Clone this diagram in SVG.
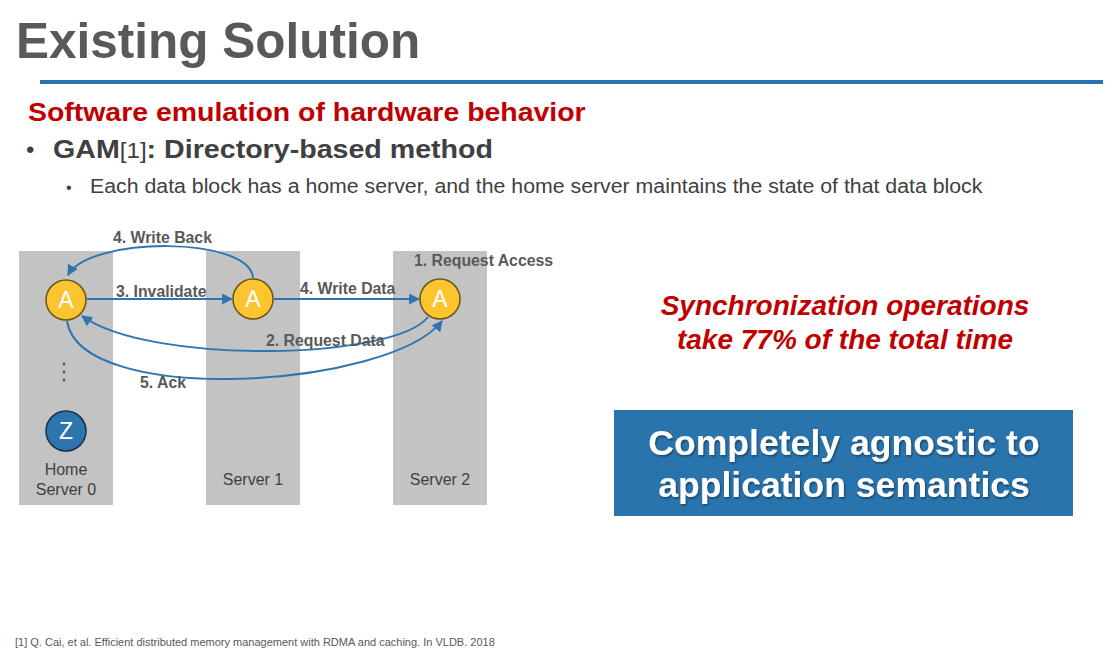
<svg xmlns="http://www.w3.org/2000/svg" width="1109" height="664" viewBox="0 0 1109 664">
  <defs>
    <marker id="arrow" viewBox="0 0 10 10" refX="9" refY="5" markerWidth="5.5" markerHeight="5.5" orient="auto" markerUnits="strokeWidth">
      <path d="M0,0 L10,5 L0,10 z" fill="#2e75b0"/>
    </marker>
    <filter id="shadow" x="-5%" y="-20%" width="110%" height="140%">
      <feDropShadow dx="1" dy="1.5" stdDeviation="0.8" flood-color="#000" flood-opacity="0.45"/>
    </filter>
  </defs>
  <style>
    .sans { font-family: "Liberation Sans", Arial, sans-serif; }
    .col { fill: #c3c3c3; }
    .nodeA { fill: #fcc52f; stroke: #6b5416; stroke-width: 1.5; }
    .nodeZ { fill: #2e75b0; stroke: #1a2f45; stroke-width: 1.5; }
    .glyph { font-family: "Liberation Sans", Arial, sans-serif; font-size: 23px; fill: #ffffff; text-anchor: middle; }
    .edge { fill: none; stroke: #2e75b0; stroke-width: 2; marker-end: url(#arrow); }
    .elabel { font-family: "Liberation Sans", Arial, sans-serif; font-size: 15.8px; font-weight: bold; fill: #595959; }
    .srv { font-family: "Liberation Sans", Arial, sans-serif; font-size: 16px; fill: #404040; text-anchor: middle; }
  </style>

  <rect width="1109" height="664" fill="#ffffff"/>

  <!-- Title and header rule -->
  <text x="16" y="58" class="sans" font-size="49.5" font-weight="bold" fill="#595959">Existing Solution</text>
  <rect x="40" y="80" width="1063" height="4" fill="#2a71ad"/>

  <!-- Bullet text (slightly widened lettering) -->
  <text transform="translate(28,121) scale(1.094,1)" class="sans" font-size="26" font-weight="bold" fill="#c00000">Software emulation of hardware behavior</text>
  <text x="26" y="158" class="sans" font-size="24" fill="#404040">•</text>
  <text transform="translate(53,158) scale(1.1,1)" class="sans" font-size="26" fill="#404040"><tspan font-weight="bold">GAM</tspan><tspan font-size="22">[1]</tspan><tspan font-weight="bold">: Directory-based method</tspan></text>
  <text x="66" y="193" class="sans" font-size="16" fill="#404040">•</text>
  <text transform="translate(90,193) scale(1.093,1)" class="sans" font-size="19.5" fill="#404040">Each data block has a home server, and the home server maintains the state of that data block</text>

  <!-- Server columns -->
  <g id="server0">
    <rect class="col" x="19" y="251" width="94" height="254"/>
    <text class="srv" x="66" y="475">Home</text>
    <text class="srv" x="66" y="495">Server 0</text>
  </g>
  <g id="server1">
    <rect class="col" x="206" y="251" width="94" height="254"/>
    <text class="srv" x="253" y="485">Server 1</text>
  </g>
  <g id="server2">
    <rect class="col" x="393" y="251" width="94" height="254"/>
    <text class="srv" x="440" y="485">Server 2</text>
  </g>

  <!-- Connectors -->
  <g id="connectors">
    <path class="edge" d="M87,299 L232,299"/>
    <path class="edge" d="M274,299 L419,299"/>
    <path class="edge" d="M253,278 C250,236 90,236 68,275"/>
    <path class="edge" d="M428,317 C395,360 150,365 82,316"/>
    <path class="edge" d="M67,321 C80,408 390,388 442,321"/>
    <text class="elabel" x="113" y="243">4. Write Back</text>
    <text class="elabel" x="116" y="297">3. Invalidate</text>
    <text class="elabel" x="300" y="294">4. Write Data</text>
    <text class="elabel" x="414" y="266">1. Request Access</text>
    <text class="elabel" x="266" y="346">2. Request Data</text>
    <text class="elabel" x="140" y="388">5. Ack</text>
  </g>

  <!-- Data block nodes -->
  <g id="a0">
    <circle class="nodeA" cx="66" cy="300" r="20"/>
    <text class="glyph" x="66" y="308">A</text>
  </g>
  <g id="a1">
    <circle class="nodeA" cx="253" cy="299" r="20"/>
    <text class="glyph" x="253" y="307">A</text>
  </g>
  <g id="a2">
    <circle class="nodeA" cx="440" cy="299" r="20"/>
    <text class="glyph" x="440" y="307">A</text>
  </g>
  <g id="ellipsis">
    <circle cx="64" cy="364" r="1.4" fill="#595959"/>
    <circle cx="64" cy="372" r="1.4" fill="#595959"/>
    <circle cx="64" cy="380" r="1.4" fill="#595959"/>
  </g>
  <g id="z">
    <circle class="nodeZ" cx="66" cy="431" r="20"/>
    <text class="glyph" x="66" y="439">Z</text>
  </g>

  <!-- Observation -->
  <text x="845" y="315" class="sans" font-size="28" font-weight="bold" font-style="italic" fill="#c00000" text-anchor="middle">Synchronization operations</text>
  <text x="845" y="349" class="sans" font-size="28" font-weight="bold" font-style="italic" fill="#c00000" text-anchor="middle">take 77% of the total time</text>

  <!-- Conclusion box -->
  <g id="conclusion">
    <rect x="614" y="410" width="459" height="106" fill="#2a74ad"/>
    <g filter="url(#shadow)">
      <text x="844" y="455" class="sans" font-size="35.6" font-weight="bold" fill="#ffffff" text-anchor="middle">Completely agnostic to</text>
      <text x="844" y="497" class="sans" font-size="35.6" font-weight="bold" fill="#ffffff" text-anchor="middle">application semantics</text>
    </g>
  </g>

  <!-- Reference -->
  <text x="15" y="646" class="sans" font-size="11" fill="#595959">[1] Q. Cai, et al. Efficient distributed memory management with RDMA and caching. In VLDB. 2018</text>
</svg>
